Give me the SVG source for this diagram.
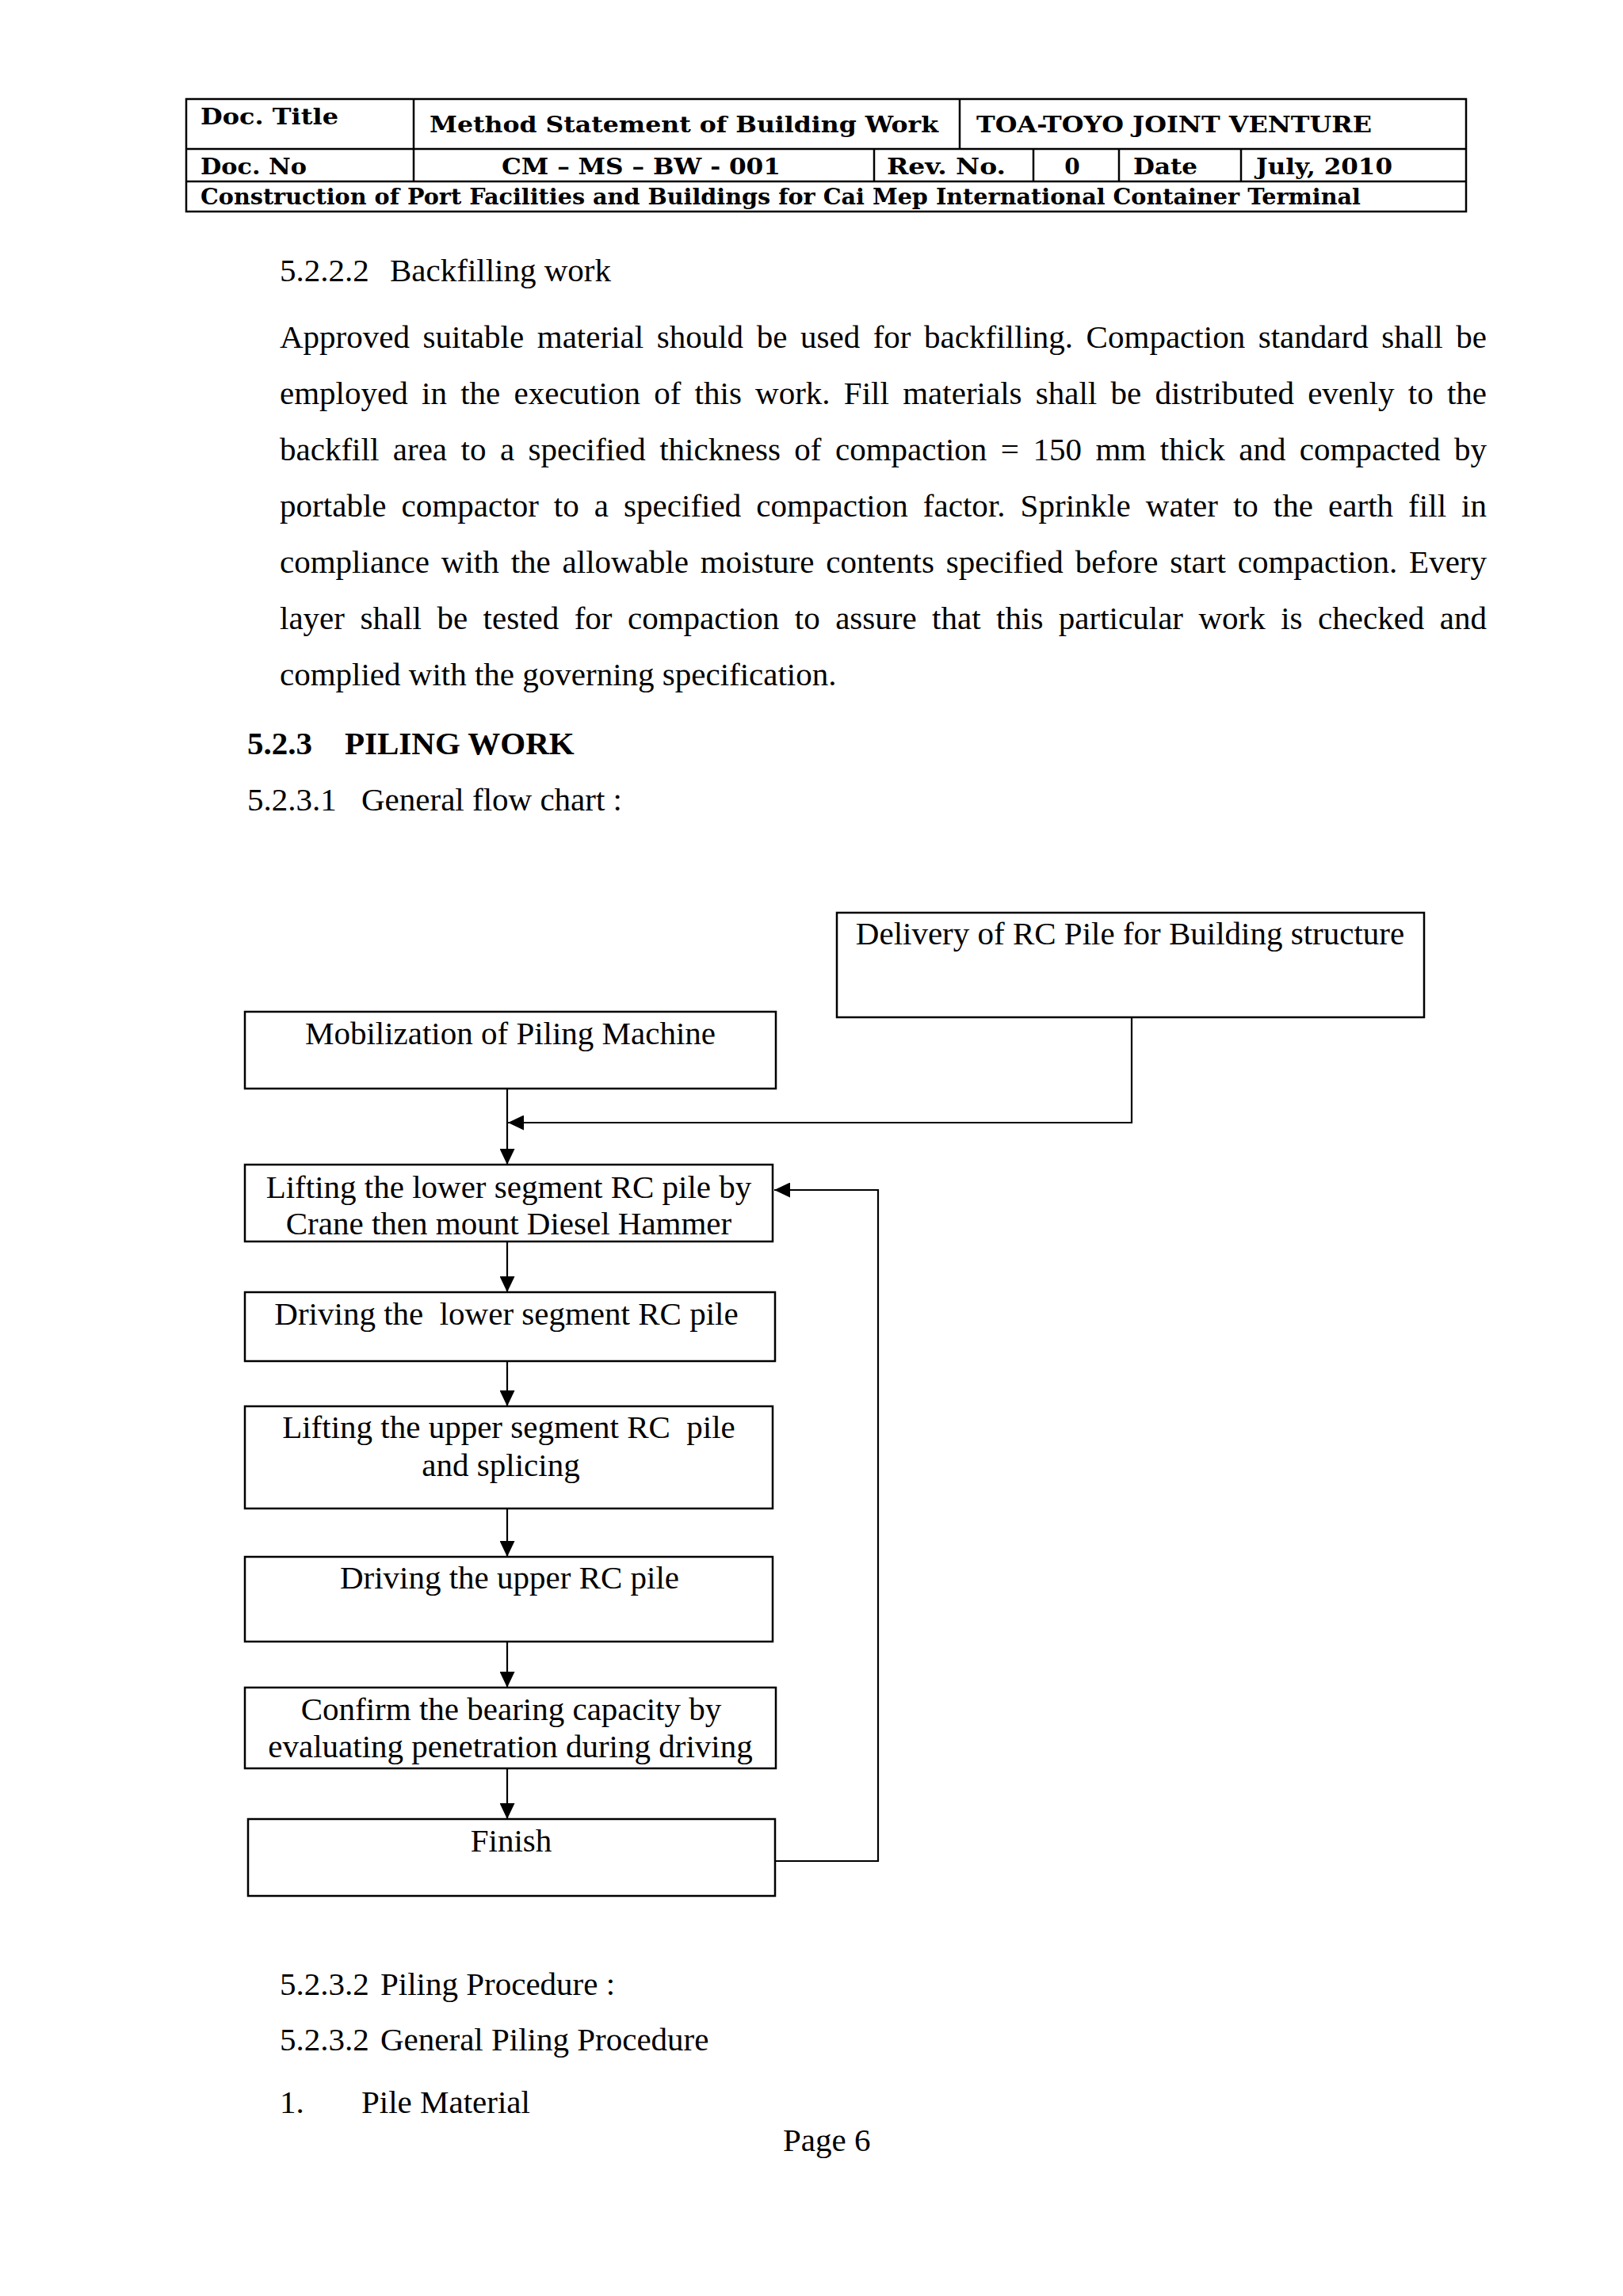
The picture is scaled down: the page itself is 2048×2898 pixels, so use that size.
<svg xmlns="http://www.w3.org/2000/svg" width="2048" height="2898" viewBox="0 0 2048 2898">
<style>
.hd{font-family:"DejaVu Serif","Liberation Serif",serif;font-weight:bold;font-size:28px;fill:#000}
.tx{font-family:"Liberation Serif","Times New Roman",serif;font-size:41px;fill:#000}
.bd{font-family:"Liberation Serif","Times New Roman",serif;font-size:41px;font-weight:bold;fill:#000}
.ct{font-family:"Liberation Serif","Times New Roman",serif;font-size:41px;fill:#000;text-anchor:middle}
.tb{fill:none;stroke:#000;stroke-width:2.5}
.box{fill:#fff;stroke:#000;stroke-width:2.5}
.cn{fill:none;stroke:#000;stroke-width:2.2}
</style>
<defs>
<marker id="ah" markerUnits="userSpaceOnUse" markerWidth="20" markerHeight="19" refX="20" refY="9.5" orient="auto">
<path d="M0,0 L20,9.5 L0,19 z" fill="#000"/>
</marker>
</defs>
<rect width="2048" height="2898" fill="#fff"/>

<g id="header">
<rect class="tb" x="235" y="125" width="1615" height="142"/>
<line class="tb" x1="235" y1="188" x2="1850" y2="188"/>
<line class="tb" x1="235" y1="229" x2="1850" y2="229"/>
<line class="tb" x1="522" y1="125" x2="522" y2="229"/>
<line class="tb" x1="1211" y1="125" x2="1211" y2="188"/>
<line class="tb" x1="1103" y1="188" x2="1103" y2="229"/>
<line class="tb" x1="1304" y1="188" x2="1304" y2="229"/>
<line class="tb" x1="1412" y1="188" x2="1412" y2="229"/>
<line class="tb" x1="1566" y1="188" x2="1566" y2="229"/>
<text class="hd" x="253" y="157" textLength="174" lengthAdjust="spacingAndGlyphs">Doc. Title</text>
<text class="hd" x="542" y="167" textLength="642" lengthAdjust="spacingAndGlyphs">Method Statement of Building Work</text>
<text class="hd" x="1232" y="167" textLength="499" lengthAdjust="spacingAndGlyphs">TOA-TOYO JOINT VENTURE</text>
<text class="hd" x="253" y="220" textLength="134" lengthAdjust="spacingAndGlyphs">Doc. No</text>
<text class="hd" x="633" y="220" textLength="352" lengthAdjust="spacingAndGlyphs">CM – MS – BW - 001</text>
<text class="hd" x="1119" y="220" textLength="150" lengthAdjust="spacingAndGlyphs">Rev. No.</text>
<text class="hd" x="1353" y="220" text-anchor="middle">0</text>
<text class="hd" x="1430" y="220" textLength="81" lengthAdjust="spacingAndGlyphs">Date</text>
<text class="hd" x="1585" y="220" textLength="172" lengthAdjust="spacingAndGlyphs">July, 2010</text>
<text class="hd" x="253" y="258" textLength="1464" lengthAdjust="spacingAndGlyphs" style="font-size:27px">Construction of Port Facilities and Buildings for Cai Mep International Container Terminal</text>
</g>

<g id="body-text">
<text class="tx" y="355"><tspan x="353">5.2.2.2</tspan><tspan x="492">Backfilling work</tspan></text>
<text class="tx" x="353" y="439" word-spacing="6.3" textLength="1523" lengthAdjust="spacing">Approved suitable material should be used for backfilling. Compaction standard shall be</text>
<text class="tx" x="353" y="510" word-spacing="7.0" textLength="1523" lengthAdjust="spacing">employed in the execution of this work. Fill materials shall be distributed evenly to the</text>
<text class="tx" x="353" y="581" word-spacing="7.2" textLength="1523" lengthAdjust="spacing">backfill area to a specified thickness of compaction = 150 mm thick and compacted by</text>
<text class="tx" x="353" y="652" word-spacing="8.7" textLength="1523" lengthAdjust="spacing">portable compactor to a specified compaction factor. Sprinkle water to the earth fill in</text>
<text class="tx" x="353" y="723" word-spacing="4.6" textLength="1523" lengthAdjust="spacing">compliance with the allowable moisture contents specified before start compaction. Every</text>
<text class="tx" x="353" y="794" word-spacing="9.2" textLength="1523" lengthAdjust="spacing">layer shall be tested for compaction to assure that this particular work is checked and</text>
<text class="tx" x="353" y="865">complied with the governing specification.</text>
<text class="bd" y="952"><tspan x="312">5.2.3</tspan><tspan x="435">PILING WORK</tspan></text>
<text class="tx" y="1023"><tspan x="312">5.2.3.1</tspan><tspan x="456">General flow chart :</tspan></text>
<text class="tx" y="2518"><tspan x="353">5.2.3.2</tspan><tspan x="480">Piling Procedure :</tspan></text>
<text class="tx" y="2588"><tspan x="353">5.2.3.2</tspan><tspan x="480">General Piling Procedure</tspan></text>
<text class="tx" y="2667"><tspan x="353">1.</tspan><tspan x="456">Pile Material</tspan></text>
<text class="tx" x="988" y="2715">Page 6</text>
</g>

<g id="connectors">
<line class="cn" x1="640" y1="1375" x2="640" y2="1470" marker-end="url(#ah)"/>
<polyline class="cn" points="1428,1285 1428,1417 641,1417" marker-end="url(#ah)"/>
<line class="cn" x1="640" y1="1568" x2="640" y2="1631" marker-end="url(#ah)"/>
<line class="cn" x1="640" y1="1719" x2="640" y2="1775" marker-end="url(#ah)"/>
<line class="cn" x1="640" y1="1905" x2="640" y2="1965" marker-end="url(#ah)"/>
<line class="cn" x1="640" y1="2073" x2="640" y2="2130" marker-end="url(#ah)"/>
<line class="cn" x1="640" y1="2233" x2="640" y2="2296" marker-end="url(#ah)"/>
<polyline class="cn" points="979,2349 1108,2349 1108,1502 977,1502" marker-end="url(#ah)"/>
</g>

<g id="node-delivery">
<rect class="box" x="1056" y="1152" width="741" height="132"/>
<text class="ct" x="1426" y="1192">Delivery of RC Pile for Building structure</text>
</g>
<g id="node-mobilization">
<rect class="box" x="309" y="1277" width="670" height="97"/>
<text class="ct" x="644" y="1318">Mobilization of Piling Machine</text>
</g>
<g id="node-lift-lower">
<rect class="box" x="309" y="1470" width="666" height="97"/>
<text class="ct" x="642" y="1512">Lifting the lower segment RC pile by</text>
<text class="ct" x="642" y="1558">Crane then mount Diesel Hammer</text>
</g>
<g id="node-drive-lower">
<rect class="box" x="309" y="1631" width="669" height="87"/>
<text class="ct" x="639" y="1672" xml:space="preserve" style="white-space:pre">Driving the  lower segment RC pile</text>
</g>
<g id="node-lift-upper">
<rect class="box" x="309" y="1775" width="666" height="129"/>
<text class="ct" x="642" y="1815" xml:space="preserve" style="white-space:pre">Lifting the upper segment RC  pile</text>
<text class="ct" x="632" y="1863">and splicing</text>
</g>
<g id="node-drive-upper">
<rect class="box" x="309" y="1965" width="666" height="107"/>
<text class="ct" x="643" y="2005">Driving the upper RC pile</text>
</g>
<g id="node-confirm">
<rect class="box" x="309" y="2130" width="670" height="102"/>
<text class="ct" x="645" y="2171">Confirm the bearing capacity by</text>
<text class="ct" x="644" y="2218">evaluating penetration during driving</text>
</g>
<g id="node-finish">
<rect class="box" x="313" y="2296" width="665" height="97"/>
<text class="ct" x="645" y="2337">Finish</text>
</g>
</svg>
